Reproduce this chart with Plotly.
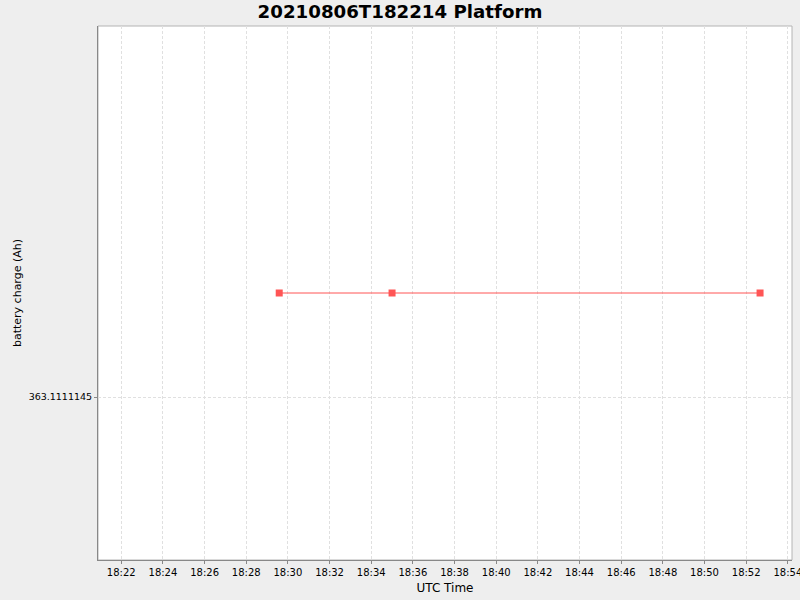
import plotly.graph_objects as go

title = "20210806T182214 Platform"
times = ["2021-08-06 18:29:35", "2021-08-06 18:35:00", "2021-08-06 18:52:40"]
charge = [363.11111489, 363.11111489, 363.11111489]
y_tick_vals = [363.1111145]
y_tick_text = ["363.1111145"]
x_range = ["2021-08-06 18:20:53", "2021-08-06 18:54:12"]
y_range = [363.11111389, 363.11111589]

font = "DejaVu Sans, Liberation Sans, sans-serif"

fig = go.Figure()
fig.add_trace(go.Scatter(
    x=times, y=charge, mode="lines+markers",
    line=dict(color="#FF5555", width=1),
    marker=dict(symbol="square", size=7, color="#FF5555"),
    showlegend=False,
))

fig.update_layout(
    width=800, height=600,
    paper_bgcolor="#EEEEEE", plot_bgcolor="#FFFFFF",
    margin=dict(l=98, r=8, t=26, b=40),
    title=dict(text="<b>" + title + "</b>", x=0.5, xanchor="center",
               y=0.98, yanchor="middle", yref="container",
               font=dict(family=font, size=18.2, color="#000000")),
    font=dict(family=font, size=10, color="#000000"),
    xaxis=dict(
        type="date", range=x_range, dtick=120000, tickformat="%H:%M",
        showgrid=True, gridcolor="#E0E0E0", griddash="3px,2px", gridwidth=1,
        showline=True, linecolor="#888888", linewidth=1,
        ticks="outside", ticklen=3, tickcolor="#888888",
        tickfont=dict(size=10), ticklabeloverflow="allow",
        automargin=False,
        zeroline=False,
        title=dict(text="UTC Time", font=dict(size=12), standoff=6),
    ),
    yaxis=dict(
        range=y_range, tickvals=y_tick_vals, ticktext=y_tick_text,
        showgrid=True, gridcolor="#E0E0E0", griddash="3px,2px", gridwidth=1,
        showline=True, linecolor="#888888", linewidth=1,
        ticks="outside", ticklen=3, tickcolor="#888888",
        tickfont=dict(size=9.5),
        automargin=False,
        zeroline=False,
        title=dict(text="battery charge (Ah)", font=dict(size=11), standoff=4),
    ),
    shapes=[dict(type="rect", xref="paper", yref="paper", x0=0, x1=1, y0=0, y1=1,
                 line=dict(color="#B4B4B4", width=1), layer="below")],
)

fig.write_html(
    "out.html",
    config={"displayModeBar": False},
    post_script="document.body.style.margin='0';document.body.style.background='#EEEEEE';",
)
